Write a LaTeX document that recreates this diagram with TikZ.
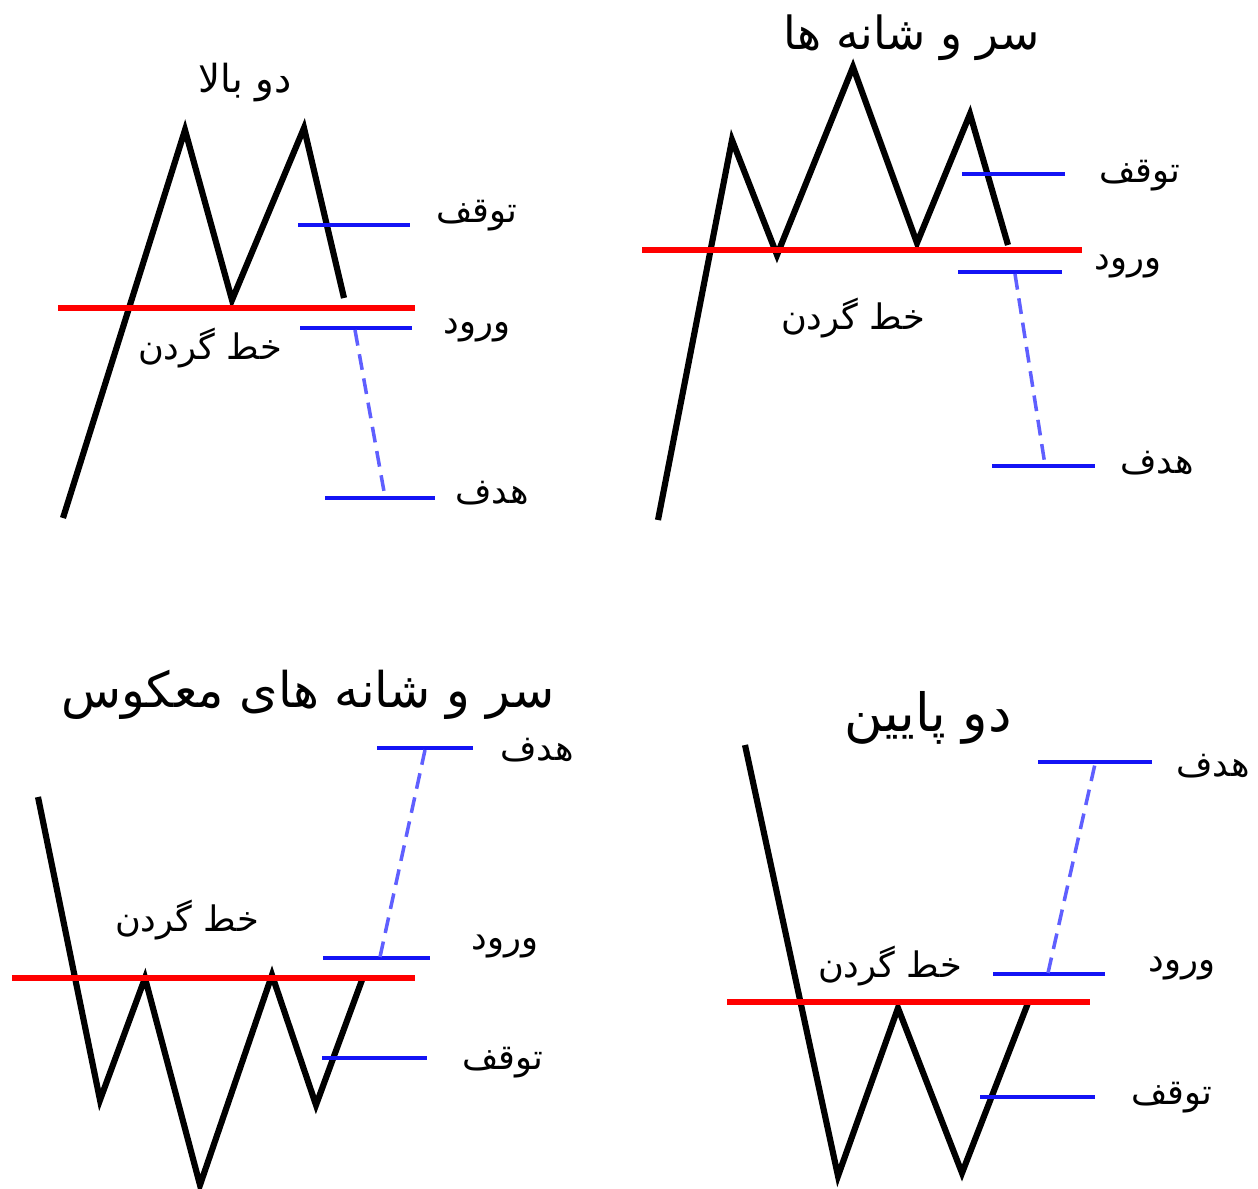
\documentclass[tikz,border=0pt]{standalone}
\usepackage{fontspec}
\newfontfamily\arfont[Script=Arabic]{DejaVu Sans}
\TeXXeTstate=1
\definecolor{pricered}{RGB}{255,0,0}
\definecolor{lvlblue}{RGB}{20,20,245}
\definecolor{projblue}{RGB}{95,95,255}
\tikzset{
  price/.style={line width=3.5pt, black, line join=miter, miter limit=4},
  neck/.style={line width=3.3pt, pricered},
  lvl/.style={line width=2.8pt, lvlblue},
  proj/.style={line width=2pt, projblue, dash pattern=on 9pt off 5pt},
  lab/.style={font=\arfont\fontsize{20}{24}\selectfont, inner sep=0pt},
  ttl/.style={font=\arfont\fontsize{#1}{30}\selectfont, inner sep=0pt},
}
\begin{document}
\begin{tikzpicture}[x=0.02cm,y=-0.02cm]
\useasboundingbox (0,0) rectangle (1258,1189);

% ---------------- Panel 1: double top ----------------
\node[ttl=22] (t1) at (245,83) {\beginR دو بالا\endR};
\coordinate (a1) at (63,518);
\coordinate (a2) at (185,130);
\coordinate (a3) at (232,300);
\coordinate (a4) at (304,128);
\coordinate (a5) at (344,298);
\draw[price] (a1) -- (a2) -- (a3) -- (a4) -- (a5);
\coordinate (n1l) at (58,308); \coordinate (n1r) at (415,308);
\draw[neck] (n1l) -- (n1r);
\coordinate (s1l) at (298,225); \coordinate (s1r) at (410,225);
\draw[lvl] (s1l) -- (s1r);
\coordinate (e1l) at (300,328); \coordinate (e1r) at (412,328);
\draw[lvl] (e1l) -- (e1r);
\coordinate (g1l) at (325,498); \coordinate (g1r) at (435,498);
\draw[lvl] (g1l) -- (g1r);
\coordinate (d1a) at (355,330); \coordinate (d1b) at (385,497);
\draw[proj] (d1a) -- (d1b);
\node[lab] (s1t) at (477,216) {\beginR توقف\endR};
\node[lab] (e1t) at (477,330) {\beginR ورود\endR};
\node[lab] (g1t) at (492,493) {\beginR هدف\endR};
\node[lab] (n1t) at (210,348) {\beginR خط گردن\endR};

% ---------------- Panel 2: head and shoulders ----------------
\node[ttl=26] (t2) at (912,38) {\beginR سر و شانه ها\endR};
\coordinate (b1) at (658,520);
\coordinate (b2) at (732,140);
\coordinate (b3) at (777,255);
\coordinate (b4) at (853,67);
\coordinate (b5) at (917,243);
\coordinate (b6) at (970,114);
\coordinate (b7) at (1008,245);
\draw[price] (b1) -- (b2) -- (b3) -- (b4) -- (b5) -- (b6) -- (b7);
\coordinate (n2l) at (642,250); \coordinate (n2r) at (1082,250);
\draw[neck] (n2l) -- (n2r);
\coordinate (s2l) at (962,174); \coordinate (s2r) at (1065,174);
\draw[lvl] (s2l) -- (s2r);
\coordinate (e2l) at (958,272); \coordinate (e2r) at (1062,272);
\draw[lvl] (e2l) -- (e2r);
\coordinate (g2l) at (992,466); \coordinate (g2r) at (1095,466);
\draw[lvl] (g2l) -- (g2r);
\coordinate (d2a) at (1015,274); \coordinate (d2b) at (1045,465);
\draw[proj] (d2a) -- (d2b);
\node[lab] (s2t) at (1140,176) {\beginR توقف\endR};
\node[lab] (e2t) at (1128,266) {\beginR ورود\endR};
\node[lab] (g2t) at (1157,463) {\beginR هدف\endR};
\node[lab] (n2t) at (853,318) {\beginR خط گردن\endR};

% ---------------- Panel 3: inverse head and shoulders ----------------
\node[ttl=28] (t3) at (308,695) {\beginR سر و شانه های معکوس\endR};
\coordinate (c1) at (38,797);
\coordinate (c2) at (100,1100);
\coordinate (c3) at (145,978);
\coordinate (c4) at (200,1185);
\coordinate (c5) at (272,975);
\coordinate (c6) at (316,1105);
\coordinate (c7) at (362,980);
\draw[price] (c1) -- (c2) -- (c3) -- (c4) -- (c5) -- (c6) -- (c7);
\coordinate (n3l) at (12,978); \coordinate (n3r) at (415,978);
\draw[neck] (n3l) -- (n3r);
\coordinate (g3l) at (377,748); \coordinate (g3r) at (473,748);
\draw[lvl] (g3l) -- (g3r);
\coordinate (e3l) at (323,958); \coordinate (e3r) at (430,958);
\draw[lvl] (e3l) -- (e3r);
\coordinate (s3l) at (322,1058); \coordinate (s3r) at (427,1058);
\draw[lvl] (s3l) -- (s3r);
\coordinate (d3a) at (380,957); \coordinate (d3b) at (425,750);
\draw[proj] (d3a) -- (d3b);
\node[lab] (g3t) at (537,750) {\beginR هدف\endR};
\node[lab] (e3t) at (505,946) {\beginR ورود\endR};
\node[lab] (s3t) at (503,1063) {\beginR توقف\endR};
\node[lab] (n3t) at (187,920) {\beginR خط گردن\endR};

% ---------------- Panel 4: double bottom ----------------
\node[ttl=30] (t4) at (928,718) {\beginR دو پایین\endR};
\coordinate (f1) at (745,745);
\coordinate (f2) at (838,1176);
\coordinate (f3) at (898,1008);
\coordinate (f4) at (962,1173);
\coordinate (f5) at (1028,1003);
\draw[price] (f1) -- (f2) -- (f3) -- (f4) -- (f5);
\coordinate (n4l) at (727,1002); \coordinate (n4r) at (1090,1002);
\draw[neck] (n4l) -- (n4r);
\coordinate (g4l) at (1038,762); \coordinate (g4r) at (1152,762);
\draw[lvl] (g4l) -- (g4r);
\coordinate (e4l) at (993,974); \coordinate (e4r) at (1105,974);
\draw[lvl] (e4l) -- (e4r);
\coordinate (s4l) at (980,1097); \coordinate (s4r) at (1095,1097);
\draw[lvl] (s4l) -- (s4r);
\coordinate (d4a) at (1048,973); \coordinate (d4b) at (1095,764);
\draw[proj] (d4a) -- (d4b);
\node[lab] (g4t) at (1213,766) {\beginR هدف\endR};
\node[lab] (e4t) at (1182,968) {\beginR ورود\endR};
\node[lab] (s4t) at (1172,1098) {\beginR توقف\endR};
\node[lab] (n4t) at (890,966) {\beginR خط گردن\endR};
\end{tikzpicture}
\end{document}
